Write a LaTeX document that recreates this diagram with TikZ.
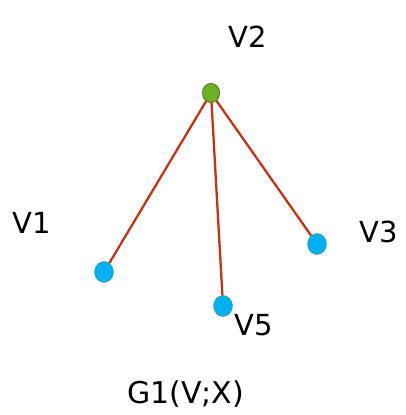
\documentclass[tikz,border=0pt]{standalone}
\usepackage{fontspec}
\setmainfont{DejaVu Sans}
\usetikzlibrary{shapes.geometric}
\begin{document}
\begin{tikzpicture}[x=1pt,y=-1pt,
  edge/.style={draw={rgb,255:red,196;green,52;blue,20}, line width=2.3pt},
  leaf/.style={ellipse, fill={rgb,255:red,0;green,176;blue,240}, draw={rgb,255:red,80;green,150;blue,90}, line width=0.4pt, minimum width=19pt, minimum height=21pt, inner sep=0pt},
  root/.style={ellipse, fill={rgb,255:red,110;green,175;blue,40}, draw={rgb,255:red,90;green,130;blue,30}, line width=0.8pt, minimum width=17pt, minimum height=19pt, inner sep=0pt},
  lbl/.style={font=\fontsize{29}{34}\selectfont, inner sep=0pt, anchor=base west},
  wide/.style={font=\fontsize{30}{34}\selectfont}]
\useasboundingbox (0,0) rectangle (405,415);
\node[root] (v2) at (211,93) {};
\node[leaf] (v1) at (104,272) {};
\node[leaf] (v3) at (317,244) {};
\node[leaf] (v5) at (223,306) {};
\draw[edge] (v2.center) -- (v1);
\draw[edge] (v2.center) -- (v3);
\draw[edge] (v2.center) -- (v5);
\node[root] at (211,93) {};
\node[lbl] (l2) at (228,47) {V2};
\node[lbl] (l1) at (12,233) {V1};
\node[lbl] (l3) at (359,242) {V3};
\node[lbl] (l5) at (234,335) {V5};
\node[lbl,wide] (g) at (127,403) {G1(V;X)};
\end{tikzpicture}
\end{document}
